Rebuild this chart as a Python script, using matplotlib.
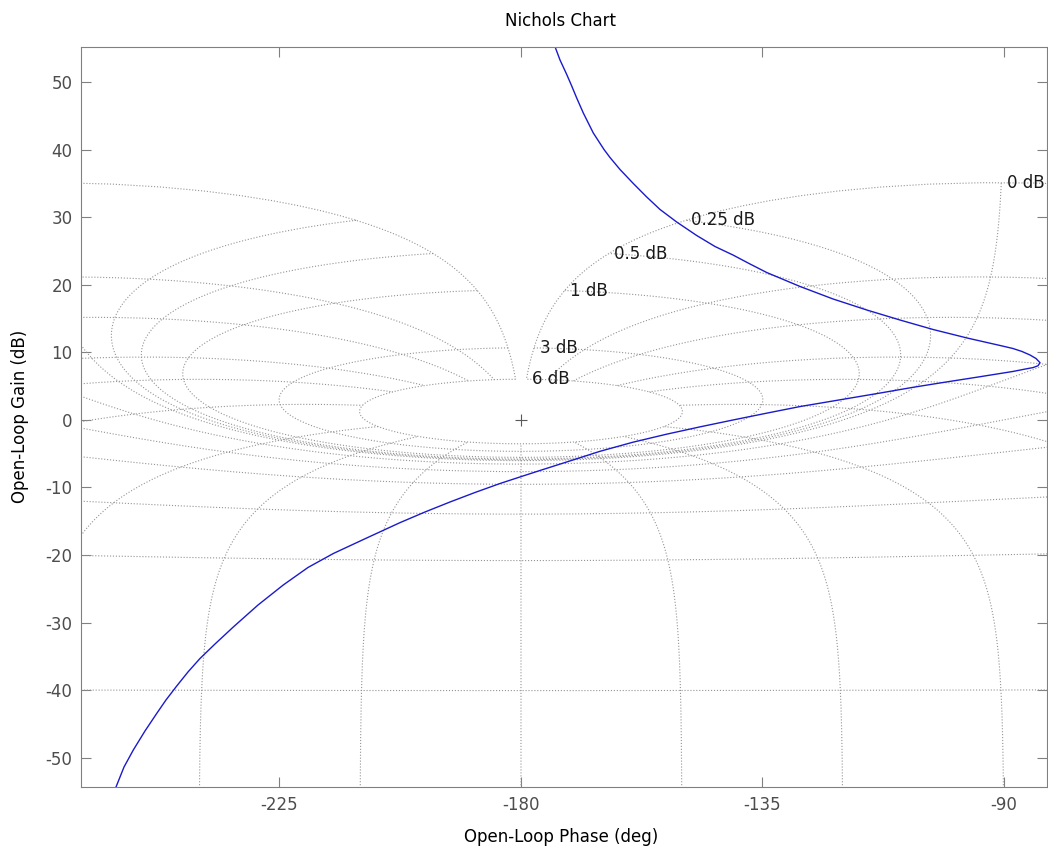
import numpy as np
import matplotlib
matplotlib.use('Agg')
import matplotlib.pyplot as plt

#### open-loop response (phase deg, gain dB) ####
phase_deg = [-174.22, -173.66, -172.73, -171.48, -170.55, -169.62, -168.39,
             -166.53, -164.53, -163.42, -161.55, -159.08, -156.58, -154.10,
             -150.99, -147.26, -143.85, -140.50, -137.33, -134.22, -128.01,
             -121.87, -115.59, -109.38, -103.23, -96.90, -90.75, -88.33,
             -86.65, -85.16, -84.04, -83.29, -83.67, -84.60, -85.77, -88.33,
             -94.47, -100.68, -106.96, -113.11, -120.56, -128.01, -134.22,
             -140.50, -146.65, -152.85, -159.13, -165.28, -171.48, -176.46,
             -180.19, -183.91, -188.57, -193.23, -197.89, -202.55, -208.75,
             -214.97, -219.69, -224.29, -229.00, -233.61, -237.02, -239.81,
             -242.05, -244.15, -246.15, -247.88, -250.06, -252.24, -253.97,
             -255.46, -256.40]
gain_db = [56.59, 55.30, 53.33, 51.19, 49.48, 47.70, 45.48,
           42.52, 40.07, 38.89, 37.11, 35.04, 33.04, 31.19,
           29.33, 27.33, 25.70, 24.44, 23.11, 21.85, 19.78,
           17.93, 16.30, 14.81, 13.41, 12.15, 11.04, 10.59,
           10.15, 9.63, 9.11, 8.49, 8.03, 7.76, 7.59, 7.19,
           6.41, 5.64, 4.84, 3.99, 2.99, 1.99, 1.01,
           0.0, -1.02, -2.10, -3.29, -4.64, -6.22, -7.48,
           -8.44, -9.41, -10.74, -12.15, -13.63, -15.21, -17.48,
           -19.78, -21.85, -24.44, -27.41, -30.67, -33.19, -35.33,
           -37.33, -39.41, -41.48, -43.48, -46.07, -48.89, -51.41,
           -54.37, -56.0]

#### Nichols grid settings (closed-loop gain / phase) ####
cl_gains = [6, 3, 1, 0.5, 0.25, 0, -1, -3, -6, -12, -20, -40, -60]
cl_phases = [-1, -5, -10, -20, -30, -50, -90, -120, -150, -180]
labelled = [6, 3, 1, 0.5, 0.25, 0]
label_text = ['6 dB', '3 dB', '1 dB', '0.5 dB', '0.25 dB', '0 dB']

xticks = [-225, -180, -135, -90]
yticks = [-50, -40, -30, -20, -10, 0, 10, 20, 30, 40, 50]


def open_loop(T):
    G = T/(1 - T)
    return np.rad2deg(np.unwrap(np.angle(G))), 20*np.log10(np.abs(G))


plt.rcParams['font.family'] = 'DejaVu Sans'
plt.rcParams['axes.unicode_minus'] = False
fig = plt.figure(figsize=(10.48, 8.49), dpi=100)
ax = fig.add_axes([0.0772, 0.0727, 0.9223, 0.8723])

gridcol = '0.58'
ends = {}
# M contours: closed-loop gain constant, closed-loop phase -359..-1
p = np.linspace(-359, -1, 3591)
mid = len(p)//2
for m in cl_gains:
    T = 10**(m/20.)*np.exp(1j*np.deg2rad(p))
    ph, g = open_loop(T)
    ph = ph + 360*np.round((-180 - ph[mid])/360)
    ax.plot(ph, g, ':', color=gridcol, lw=0.8)
    ends[m] = (ph[-1], g[-1])

# N contours: closed-loop phase constant, gain up to 6 dB
mags = np.linspace(-100, 6, 4000)
allphases = cl_phases + [-360 - q for q in cl_phases if q != -180]
for q in allphases:
    T = 10**(mags/20.)*np.exp(1j*np.deg2rad(q))
    ph, g = open_loop(T)
    ph = ph + 360*np.round((q - ph[0])/360)
    ax.plot(ph, g, ':', color=gridcol, lw=0.8)

for m, txt in zip(labelled, label_text):
    ax.annotate(txt, xy=ends[m], xytext=(4, 0), textcoords='offset points',
                ha='left', va='center', fontsize=12, color='0.1')

ax.plot(-180, 0, '+', color='0.35', ms=9, mew=0.8)
ax.plot(phase_deg, gain_db, color='#1a1acc', lw=1.0)

ax.set_xlim(-262.0, -81.9)
ax.set_ylim(-54.41, 55.3)
ax.set_xticks(xticks)
ax.set_yticks(yticks)
ax.tick_params(direction='in', length=7, width=0.8, color='0.5',
               labelcolor='0.3', labelsize=12, top=True, right=True, pad=6)
for s in ax.spines.values():
    s.set_color('0.5')
    s.set_linewidth(0.8)

fig.text(0.5353, 0.9753, 'Nichols Chart', ha='center', va='center', fontsize=12)
fig.text(0.5353, 0.0145, 'Open-Loop Phase (deg)', ha='center', va='center', fontsize=12)
fig.text(0.0191, 0.5094, 'Open-Loop Gain (dB)', ha='center', va='center',
         rotation=90, fontsize=12)

fig.savefig('out.png', dpi=100)
